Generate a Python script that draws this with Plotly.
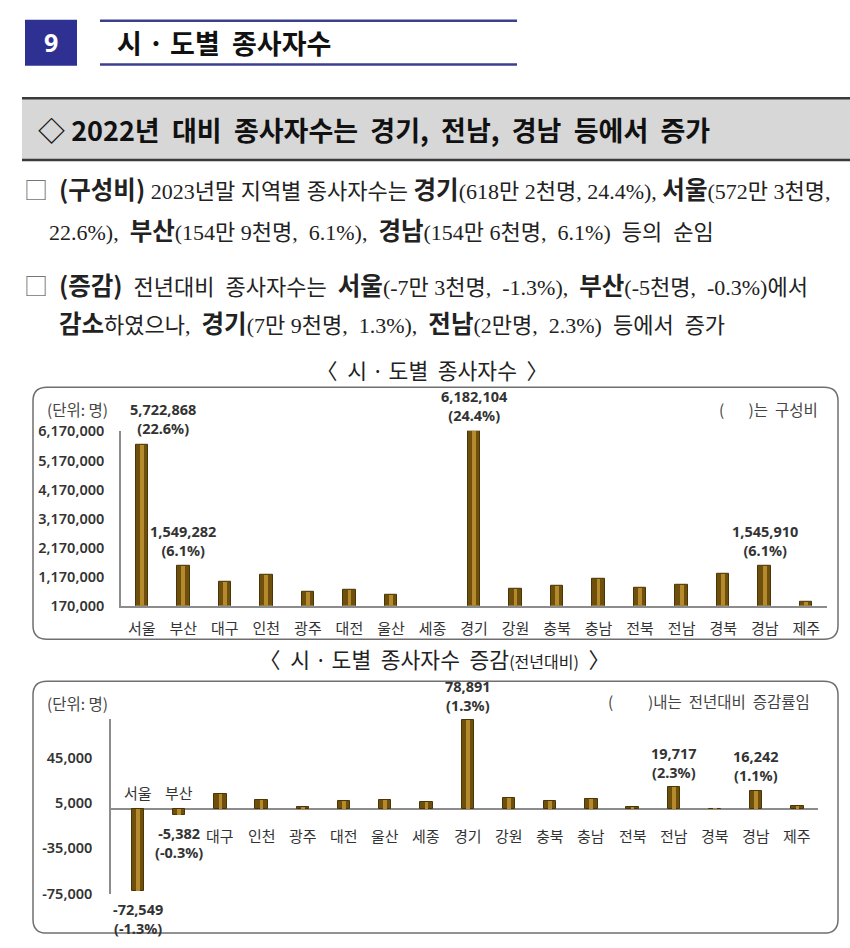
import plotly.graph_objects as go

# ---------------- data ----------------
regions = ["서울", "부산", "대구", "인천", "광주", "대전", "울산", "세종", "경기",
           "강원", "충북", "충남", "전북", "전남", "경북", "경남", "제주"]
employees = [5722868, 1549282, 1010000, 1250000, 660000, 710000, 550000, 135000, 6182104,
             740000, 850000, 1090000, 780000, 876000, 1260000, 1545910, 300000]
employee_labels = ["5,722,868<br>(22.6%)", "1,549,282<br>(6.1%)", "", "", "", "", "", "",
                   "6,182,104<br>(24.4%)", "", "", "", "", "", "", "1,545,910<br>(6.1%)", ""]
change = [-72549, -5382, 13500, 7800, 1500, 7000, 7800, 6000, 78891,
          9400, 6800, 8800, 2000, 19717, 200, 16242, 2300]
change_labels = ["-72,549<br>(-1.3%)", "-5,382<br>(-0.3%)", "", "", "", "", "", "",
                 "78,891<br>(1.3%)", "", "", "", "", "19,717<br>(2.3%)", "", "16,242<br>(1.1%)", ""]
top_ticks = [170000, 1170000, 2170000, 3170000, 4170000, 5170000, 6170000]
bottom_ticks = [-75000, -35000, 5000, 45000]

W, H = 850, 948
def px(x): return x / W
def py(y): return 1 - y / H

KR = "Noto Sans CJK KR"
NUM = "Noto Sans, Noto Sans CJK KR"
BAR_DARK = "#6e500c"
BAR_EDGE = "#4a3506"
BAR_LIGHT = "#b48a2c"
AXIS = "#8c8c8c"

fig = go.Figure()
for xa, ya, vals, vmin in (("x", "y", employees, top_ticks[0]), ("x2", "y2", change, bottom_ticks[0])):
    visible_line = [1 if v > vmin else 0 for v in vals]
    fill_dark = [BAR_DARK if v > vmin else "rgba(0,0,0,0)" for v in vals]
    fill_light = [BAR_LIGHT if v > vmin else "rgba(0,0,0,0)" for v in vals]
    fig.add_trace(go.Bar(x=regions, y=vals, xaxis=xa, yaxis=ya, width=0.3,
                         marker=dict(color=fill_dark, line=dict(color=BAR_EDGE, width=visible_line)),
                         hoverinfo="x+y"))
    fig.add_trace(go.Bar(x=regions, y=vals, xaxis=xa, yaxis=ya, width=0.09,
                         marker=dict(color=fill_light, line=dict(width=0)),
                         hoverinfo="skip"))

def fmt(v):
    return f"{v:,}"

ann = []
# value labels top chart
for i, (r, v, t) in enumerate(zip(regions, employees, employee_labels)):
    if t:
        ann.append(dict(x=r, y=v, xref="x", yref="y", text=f"<b>{t}</b>", showarrow=False,
                        yanchor="bottom", yshift=4, xshift=21 if i == 0 else 0,
                        font=dict(family=NUM, size=14.5, color="#333333")))
# value labels bottom chart
for r, v, t in zip(regions, change, change_labels):
    if t:
        ann.append(dict(x=r, y=v, xref="x2", yref="y2", text=f"<b>{t}</b>", showarrow=False,
                        yanchor="bottom" if v >= 0 else "top", yshift=3 if v >= 0 else -6,
                        font=dict(family=NUM, size=14.5, color="#333333")))
# category labels bottom chart
for r, v in zip(regions, change):
    ann.append(dict(x=r, y=0, xref="x2", yref="y2", text=r, showarrow=False,
                    yanchor="top" if v >= 0 else "bottom", yshift=-14 if v >= 0 else 4,
                    font=dict(family=KR, size=15, color="#333333")))

def T(x, y, text, size, color="#222222", family=KR, anchor="left"):
    ann.append(dict(x=px(x), y=py(y), xref="paper", yref="paper", text=text, showarrow=False,
                    xanchor=anchor, yanchor="middle", font=dict(family=family, size=size, color=color)))

# header
T(51, 33, "<b>9</b>", 25, "white", "Noto Sans", "center")
T(115, 33, "<b>시 · 도별  종사자수</b>", 27, "#111111")
T(36, 122, "<b>◇ 2022년  대비  종사자수는  경기,  전남,  경남  등에서  증가</b>", 27, "#111111")

SERIF = "Liberation Serif, Noto Sans CJK KR"
def B(s):
    return f"<b><span style='font-family:Noto Sans CJK KR;font-size:24.5px'>{s}</span></b>"
BOX = "<span style='font-family:Noto Sans CJK KR;font-size:24px;color:#777777'>□</span>"

BODY = 22
T(22, 182, f"{BOX}  {B('(구성비)')} 2023년말 지역별 종사자수는 {B('경기')}(618만 2천명, 24.4%), {B('서울')}(572만 3천명,", BODY, "#222222", SERIF)
T(47, 224, f"22.6%),  {B('부산')}(154만 9천명,  6.1%),  {B('경남')}(154만 6천명,  6.1%)  등의  순임", BODY, "#222222", SERIF)
T(22, 280, f"{BOX}  {B('(증감)')}  전년대비  종사자수는  {B('서울')}(-7만 3천명,  -1.3%),  {B('부산')}(-5천명,  -0.3%)에서", BODY, "#222222", SERIF)
T(57, 319, f"{B('감소')}하였으나,  {B('경기')}(7만 9천명,  1.3%),  {B('전남')}(2만명,  2.3%)  등에서  증가", BODY, "#222222", SERIF)

# chart titles
T(432, 367, "〈  시 · 도별  종사자수  〉", 21.5, "#222222", KR, "center")
T(434, 662, "〈  시 · 도별  종사자수  증감<span style='font-size:16px'>(전년대비)</span>  〉", 21.5, "#222222", KR, "center")

# unit notes
T(45, 407, "(단위: 명)", 15.5, "#444444")
T(820, 407, "(       )는  구성비", 15.5, "#444444", KR, "right")
T(45, 707, "(단위: 명)", 15.5, "#444444")
T(812, 705, "(          )내는  전년대비  증감률임", 15.5, "#444444", KR, "right")

def rrect(x0, y0, x1, y1, r):
    X0, X1 = px(x0), px(x1)
    Y0, Y1 = py(y0), py(y1)
    rx, ry = r / W, r / H
    return (f"M {X0+rx},{Y0} L {X1-rx},{Y0} Q {X1},{Y0} {X1},{Y0-ry} "
            f"L {X1},{Y1+ry} Q {X1},{Y1} {X1-rx},{Y1} L {X0+rx},{Y1} "
            f"Q {X0},{Y1} {X0},{Y1+ry} L {X0},{Y0-ry} Q {X0},{Y0} {X0+rx},{Y0} Z")

shapes = [
    dict(type="rect", xref="paper", yref="paper", x0=px(25), x1=px(77), y0=py(57), y1=py(10),
         fillcolor="#2f3192", line=dict(width=0), layer="below"),
    dict(type="line", xref="paper", yref="paper", x0=px(100), x1=px(517), y0=py(11), y1=py(11),
         line=dict(color="#3c3f8f", width=2.5)),
    dict(type="line", xref="paper", yref="paper", x0=px(100), x1=px(517), y0=py(55.5), y1=py(55.5),
         line=dict(color="#3c3f8f", width=2.5)),
    dict(type="rect", xref="paper", yref="paper", x0=px(22), x1=px(850), y0=py(153), y1=py(90),
         fillcolor="#d7d7d7", line=dict(width=0), layer="below"),
    dict(type="line", xref="paper", yref="paper", x0=px(22), x1=px(850), y0=py(90), y1=py(90),
         line=dict(color="#3a3a3a", width=2.5)),
    dict(type="line", xref="paper", yref="paper", x0=px(22), x1=px(850), y0=py(153), y1=py(153),
         line=dict(color="#3a3a3a", width=2.5)),
    dict(type="path", xref="paper", yref="paper", path=rrect(33, 385, 838, 642, 14),
         line=dict(color="#6f6f6f", width=1.5), layer="below"),
    dict(type="path", xref="paper", yref="paper", path=rrect(33, 685, 838, 942, 14),
         line=dict(color="#6f6f6f", width=1.5), layer="below"),
]

fig.update_layout(
    width=W, height=H, margin=dict(l=0, r=0, t=0, b=0),
    paper_bgcolor="white", plot_bgcolor="rgba(0,0,0,0)",
    showlegend=False, barmode="overlay", bargap=0,
    annotations=ann, shapes=shapes,
    xaxis=dict(domain=[px(121), px(827)], anchor="y", type="category", showline=True,
               linecolor=AXIS, linewidth=1.5, ticks="", showgrid=False, fixedrange=True,
               tickfont=dict(family=KR, size=15, color="#333333"), ticklabelstandoff=8),
    yaxis=dict(domain=[py(608), py(429.4)], anchor="x", range=[170000, 6190000],
               tickvals=top_ticks, ticktext=[fmt(v) for v in top_ticks], showline=True,
               linecolor=AXIS, linewidth=1.5, showgrid=False, zeroline=False, ticks="",
               tickfont=dict(family=NUM, size=14.5, color="#333333", weight=600),
               ticklabelstandoff=12),
    xaxis2=dict(domain=[px(111), px(818)], anchor="y2", type="category", showline=False,
                showticklabels=False, ticks="", showgrid=False),
    yaxis2=dict(domain=[py(901.7), py(723.5)], anchor="x2", range=[-75000, 79500],
                tickvals=bottom_ticks, ticktext=[fmt(v) for v in bottom_ticks], showline=True,
                linecolor=AXIS, linewidth=1.5, showgrid=False, zeroline=True,
                zerolinecolor=AXIS, zerolinewidth=1.5, ticks="",
                tickfont=dict(family=NUM, size=14.5, color="#333333", weight=600),
                ticklabelstandoff=14),
)

fig.write_html("out.html")
